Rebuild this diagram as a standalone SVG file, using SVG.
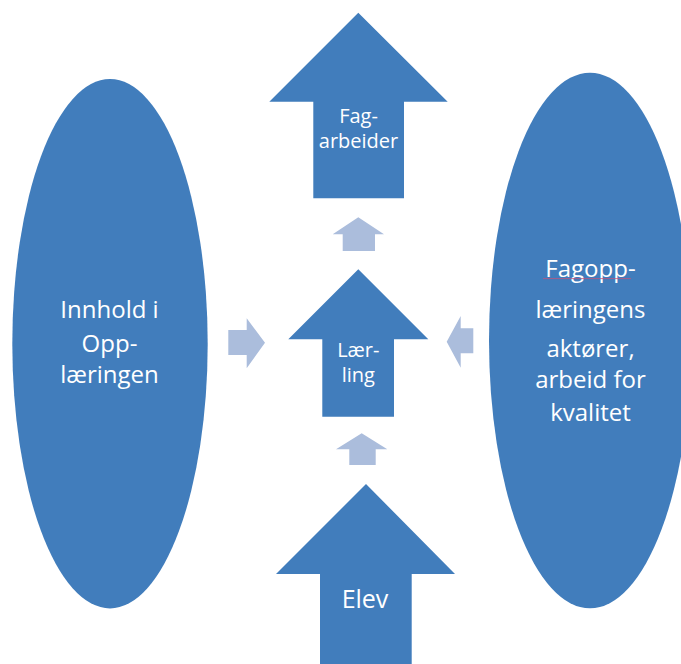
<svg xmlns="http://www.w3.org/2000/svg" width="681" height="664" viewBox="0 0 681 664">
<style>
.main{fill:#417DBC}
.light{fill:#ABBDDC}
text{font-family:"Open Sans","Noto Sans",sans-serif;fill:#ffffff;text-anchor:middle}
.big{font-size:24px}
.mid{font-size:20px}
.elev{font-size:25px}
</style>
<rect width="681" height="664" fill="#ffffff"/>
<g id="innhold">
<ellipse class="main" cx="110" cy="343.7" rx="97.7" ry="264.7"/>
<text class="big" x="109.5" y="318.3">Innhold i</text>
<text class="big" x="109.5" y="351.7">Opp-</text>
<text class="big" x="109.5" y="383.3">læringen</text>
</g>
<g id="aktorer">
<ellipse class="main" cx="590" cy="340.5" rx="101" ry="267.8"/>
<text class="big" x="590.5" y="276.7">Fagopp-</text>
<line x1="543" y1="278.6" x2="631" y2="278.6" stroke="#C0567E" stroke-width="0.8"/>
<text class="big" x="590.5" y="318.3">læringens</text>
<text class="big" x="590.5" y="356.7">aktører,</text>
<text class="big" x="590.5" y="388.3">arbeid for</text>
<text class="big" x="590.5" y="420.7">kvalitet</text>
</g>
<g id="fagarbeider">
<polygon class="main" points="358.3,12.7 447.7,101.7 404,101.7 404,198.3 313.3,198.3 313.3,101.7 269.3,101.7"/>
<text class="mid" x="358.5" y="123">Fag-</text>
<text class="mid" x="358.5" y="148">arbeider</text>
</g>
<g id="laerling">
<polygon class="main" points="358.3,269.3 428.3,339.3 394,339.3 394,416.7 322.3,416.7 322.3,339.3 288.3,339.3"/>
<text class="mid" x="358.3" y="356.7">Lær-</text>
<text class="mid" x="358.3" y="381.7">ling</text>
</g>
<g id="elev">
<polygon class="main" points="366,484 455,574 411.7,574 411.7,664 320,664 320,574 276,574"/>
<text class="elev" x="365" y="608.3">Elev</text>
</g>
<g id="connectors">
<polygon class="light" points="358.3,217.3 384,234.3 375,234.3 375,251 342.7,251 342.7,234.3 332.7,234.3"/>
<polygon class="light" points="361.7,433.3 387.3,449.3 375.7,449.3 375.7,465 349.3,465 349.3,449.3 336,449.3"/>
<polygon class="light" points="265,342.7 246.7,368.3 246.7,355 228.3,355 228.3,330 246.7,330 246.7,318.3"/>
<polygon class="light" points="446.7,341.7 460.7,316 460.7,328.3 473.3,328.3 473.3,353.3 460.7,353.3 460.7,367.7"/>
</g>
</svg>
